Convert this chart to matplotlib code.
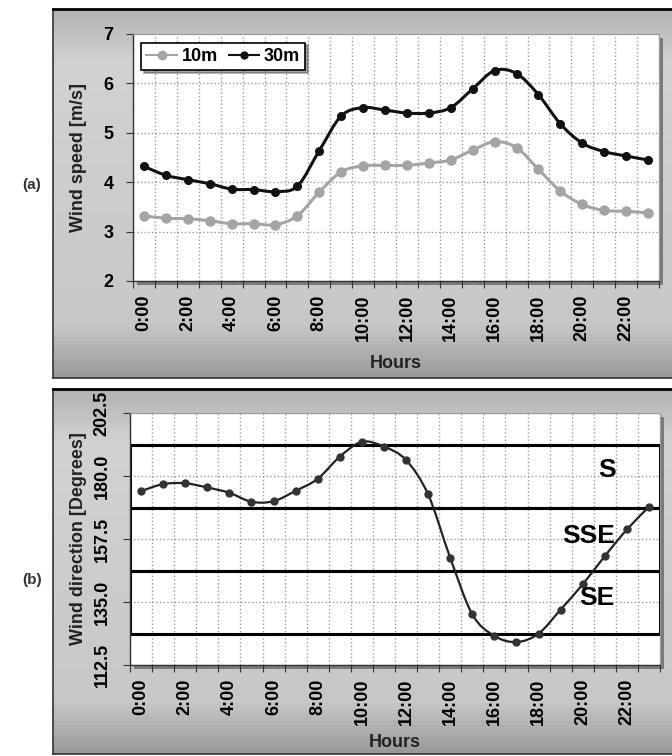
import matplotlib.pyplot as plt
import numpy as np
from matplotlib.path import Path
from matplotlib.patches import PathPatch, Rectangle

plt.rcParams['font.family'] = ['Liberation Sans', 'DejaVu Sans']
plt.rcParams['font.weight'] = 'bold'

# hourly data
hours = list(range(24))
hour_labels = ['%d:00' % h for h in range(0, 24, 2)]
speed_10m = [3.32, 3.27, 3.26, 3.22, 3.16, 3.16, 3.14, 3.32, 3.80, 4.21, 4.33, 4.34,
             4.34, 4.39, 4.45, 4.65, 4.82, 4.70, 4.26, 3.82, 3.55, 3.43, 3.41, 3.38]
speed_30m = [4.32, 4.14, 4.05, 3.97, 3.86, 3.85, 3.81, 3.92, 4.64, 5.34, 5.51, 5.46,
             5.40, 5.40, 5.51, 5.89, 6.26, 6.20, 5.77, 5.18, 4.79, 4.62, 4.53, 4.45]
direction = [174.6, 177.1, 177.4, 175.9, 174.0, 170.8, 171.0, 174.7, 179.0, 186.9, 192.2, 190.5,
             185.7, 173.4, 150.8, 130.6, 122.9, 120.7, 123.7, 132.3, 141.3, 151.4, 160.9, 169.0]
sector_names = ['SE', 'SSE', 'S']
sector_edges = [123.75, 146.25, 168.75, 191.25]

W, H = 672, 756
fig = plt.figure(figsize=(W / 100, H / 100), dpi=100)


def fr(x0, y0, x1, y1):
    # pixel box -> figure fraction
    return [x0 / W, 1 - y1 / H, (x1 - x0) / W, (y1 - y0) / H]


def frame(box):
    fa = fig.add_axes(fr(*box), zorder=0)
    g = np.concatenate([np.linspace(0.70, 0.82, 15), np.linspace(0.82, 0.78, 70),
                        np.linspace(0.78, 0.60, 15)])[:, None]
    fa.imshow(g, aspect='auto', cmap='gray', vmin=0, vmax=1, extent=[0, 1, 0, 1])
    fa.set_xticks([])
    fa.set_yticks([])
    for s in fa.spines.values():
        s.set_color('#333333')
        s.set_linewidth(1.2)
    fa.spines['top'].set_color('black')
    fa.spines['top'].set_linewidth(2)


def shadow(box):
    x0, y0, x1, y1 = box
    fig.patches.append(Rectangle(((x0 + 4) / W, 1 - (y1 + 4) / H),
                                 (x1 - x0) / W, (y1 - y0) / H, transform=fig.transFigure,
                                 facecolor='#7a7a7a', edgecolor='none', zorder=0.5))


def smooth(ax, x, y, **kw):
    # Excel-like smoothed line through the points (cubic Bezier segments)
    x = np.asarray(x, float)
    y = np.asarray(y, float)
    n = len(x)
    verts = [(x[0], y[0])]
    codes = [Path.MOVETO]
    for i in range(n - 1):
        i0 = max(i - 1, 0)
        i3 = min(i + 2, n - 1)
        c1 = (x[i] + (x[i + 1] - x[i0]) / 6, y[i] + (y[i + 1] - y[i0]) / 6)
        c2 = (x[i + 1] - (x[i3] - x[i]) / 6, y[i + 1] - (y[i3] - y[i]) / 6)
        verts += [c1, c2, (x[i + 1], y[i + 1])]
        codes += [Path.CURVE4] * 3
    ax.add_patch(PathPatch(Path(verts, codes), fill=False, zorder=3, **kw))


def style_axes(ax, xpad):
    ax.set_facecolor('white')
    ax.set_xlim(-0.5, 23.5)
    ax.set_xticks(np.arange(-0.5, 24, 1))
    ax.set_xticklabels([])
    ax.set_xticks(range(0, 24, 2), minor=True)
    ax.set_xticklabels(hour_labels, minor=True, rotation=90, fontsize=13, fontweight='bold')
    ax.tick_params(axis='x', which='minor', length=0, pad=10)
    ax.tick_params(axis='x', which='major', length=5, direction='out', color='#333333')
    ax.tick_params(axis='y', length=5, direction='out', color='#333333', labelsize=13, pad=9)
    ax.xaxis.grid(True, which='major', color='#9a9a9a', linestyle=':', linewidth=1.0, zorder=1)
    ax.yaxis.grid(True, which='major', color='#9a9a9a', linestyle=':', linewidth=1.0, zorder=1)
    for s in ['top', 'right']:
        ax.spines[s].set_color('#999999')
        ax.spines[s].set_linewidth(0.8)
    for s in ['left', 'bottom']:
        ax.spines[s].set_color('#333333')
        ax.spines[s].set_linewidth(1.0)
    ax.set_xlabel('Hours', fontsize=13, fontweight='bold', color='#222222', labelpad=xpad)


# ---------- (a) wind speed ----------
frame((53, 9, 680, 378))
box_a = (133, 34, 659, 281)
shadow(box_a)
ax1 = fig.add_axes(fr(*box_a), zorder=2)
style_axes(ax1, 10)
ax1.set_ylim(2, 7)
ax1.set_yticks(range(2, 8))
ax1.set_ylabel('Wind speed [m/s]', fontsize=13, fontweight='bold', color='#222222', labelpad=12)

smooth(ax1, hours, speed_10m, edgecolor='#a4a4a4', linewidth=2.2)
smooth(ax1, hours, speed_30m, edgecolor='#111111', linewidth=2.2)
ax1.plot(hours, speed_10m, linestyle='none', marker='o', markersize=6.5, color='#a4a4a4',
         zorder=4, label='10m')
ax1.plot(hours, speed_30m, linestyle='none', marker='o', markersize=5.5, color='#111111',
         zorder=4, label='30m')

h1 = ax1.plot([], [], '-o', color='#a4a4a4', markersize=6, linewidth=1.5)[0]
h2 = ax1.plot([], [], '-o', color='#111111', markersize=5, linewidth=1.5)[0]
leg = ax1.legend([h1, h2], ['10m', '30m'], loc='upper left', bbox_to_anchor=(0.015, 0.965),
                 ncol=2, fancybox=False, shadow=True, edgecolor='black', framealpha=1,
                 prop={'size': 13, 'weight': 'bold'}, handlelength=1.7, handletextpad=0.25,
                 columnspacing=0.6, borderpad=0.3, borderaxespad=0)
leg.get_frame().set_linewidth(1.2)

fig.text(22 / W, 1 - 185 / H, '(a)', fontsize=11, fontweight='bold', color='#333333',
         ha='left', va='center')

# ---------- (b) wind direction ----------
frame((53, 389, 680, 754))
box_b = (130, 413, 660, 665)
shadow(box_b)
ax2 = fig.add_axes(fr(*box_b), zorder=2)
style_axes(ax2, 6)
ax2.set_ylim(112.5, 202.5)
ax2.set_yticks([112.5, 135.0, 157.5, 180.0, 202.5])
ax2.set_yticklabels(['%.1f' % v for v in [112.5, 135.0, 157.5, 180.0, 202.5]],
                    rotation=90, va='center')
ax2.set_ylabel('Wind direction [Degrees]', fontsize=13, fontweight='bold', color='#222222',
               labelpad=5)

for lo, hi in zip(sector_edges[:-1], sector_edges[1:]):
    ax2.add_patch(Rectangle((-0.5, lo), 24, hi - lo, fill=False, edgecolor='black',
                            linewidth=2.2, zorder=2.5))

smooth(ax2, hours, direction, edgecolor='#222222', linewidth=1.6)
ax2.plot(hours, direction, linestyle='none', marker='o', markersize=5, color='#333333', zorder=4)

label_pos = {'S': (20.7, 182.0), 'SSE': (19.05, 158.6), 'SE': (19.85, 136.3)}
for name in sector_names:
    x, y = label_pos[name]
    ax2.text(x, y, name, fontsize=19, fontweight='bold', color='black', ha='left',
             va='center', zorder=5)

fig.text(22 / W, 1 - 580 / H, '(b)', fontsize=11, fontweight='bold', color='#333333',
         ha='left', va='center')

fig.savefig('out.png', dpi=100, facecolor='white')
